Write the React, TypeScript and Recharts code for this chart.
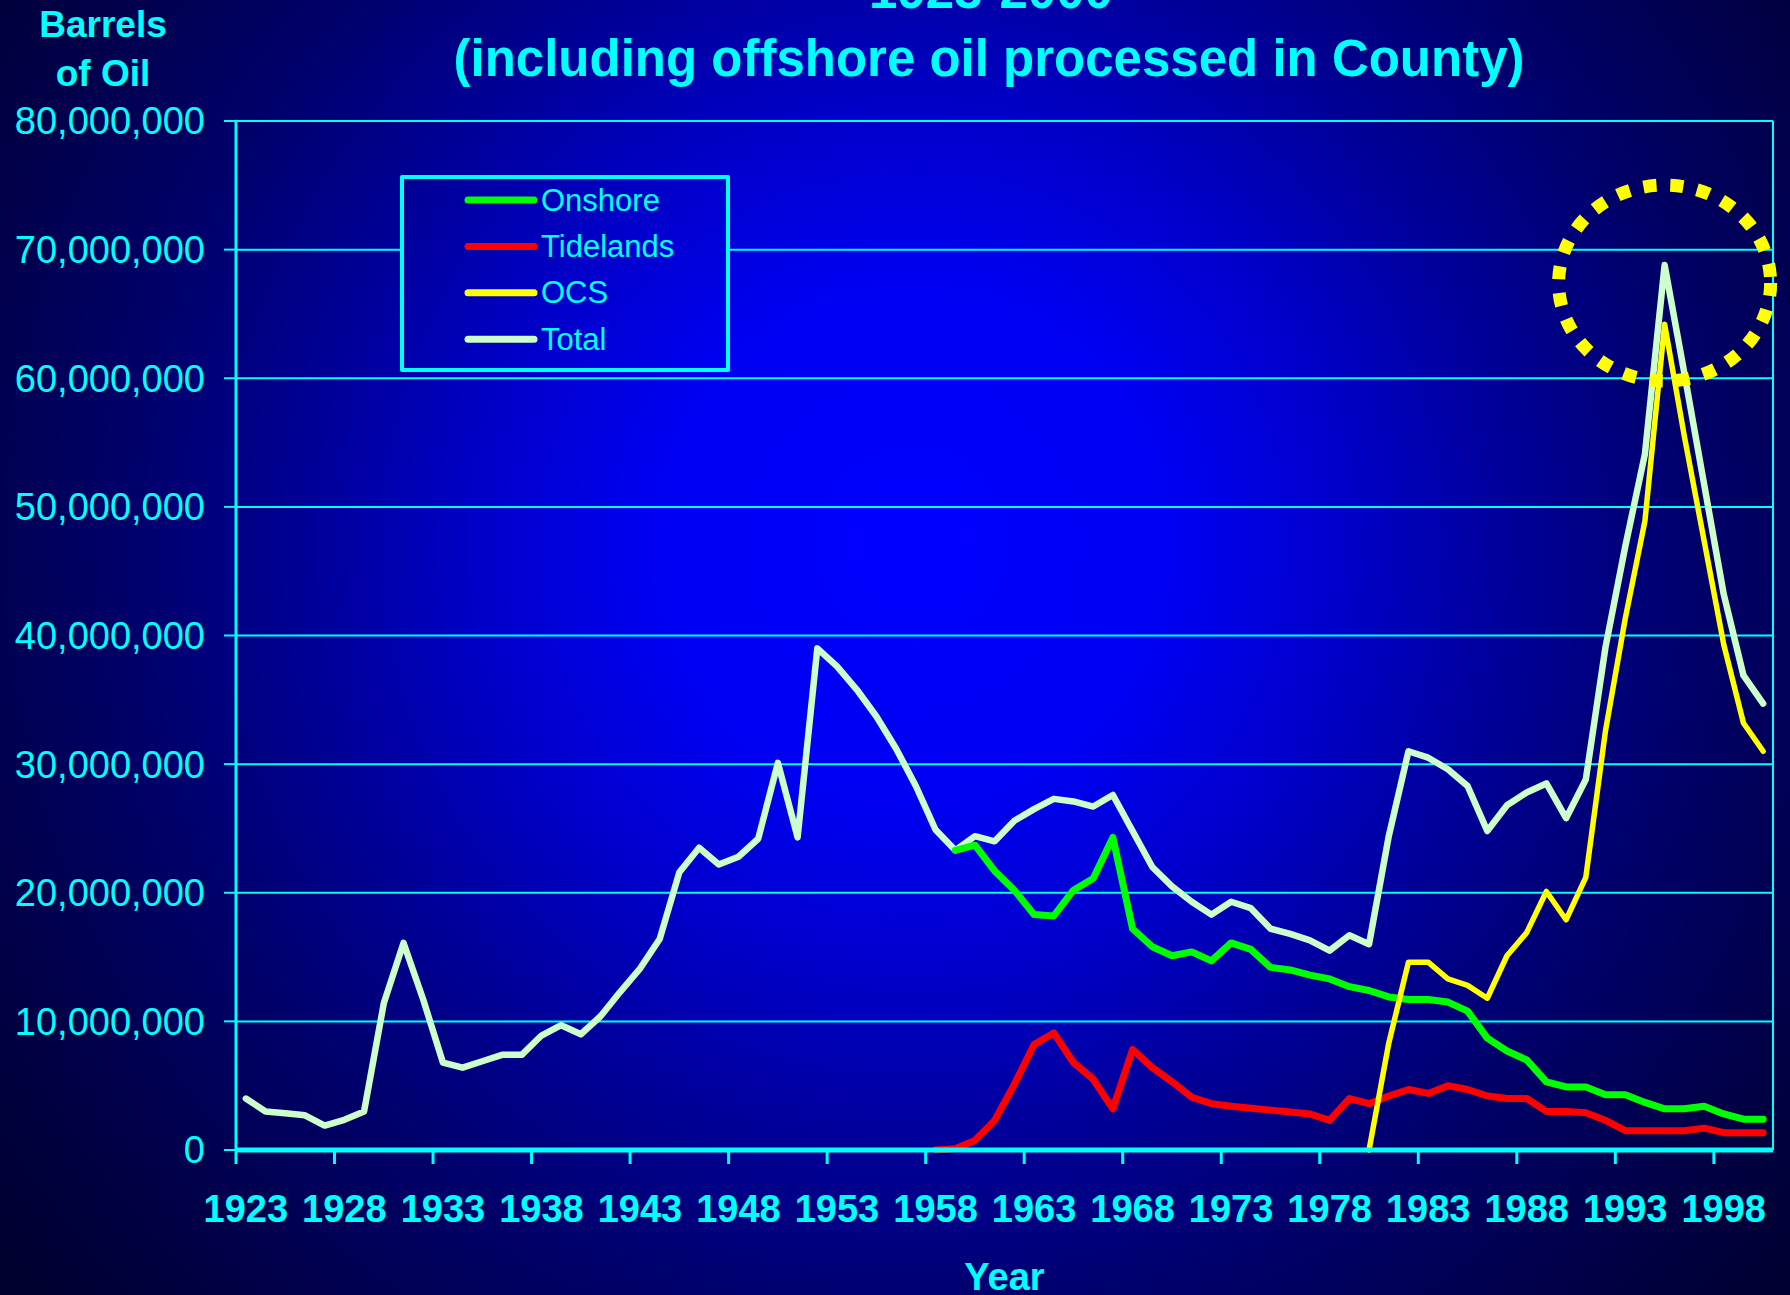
import React from 'react';
import { LineChart, Line, XAxis, YAxis, CartesianGrid, ReferenceLine, ReferenceDot, Legend, Label } from 'recharts';

// ---------- data (millions of barrels) ----------
const firstYear = 1923;
const lastYear = 2000;
const years: number[] = Array.from({ length: lastYear - firstYear + 1 }, (_, i) => firstYear + i);

const totalValues = [
  4.0, 3.0, 2.85, 2.7, 1.9, 2.35, 3.0, 11.4, 16.1, 11.7,
  6.8, 6.4, 6.9, 7.4, 7.4, 8.9, 9.7, 9.0, 10.4, 12.3,
  14.1, 16.4, 21.6, 23.5, 22.2, 22.8, 24.2, 30.1, 24.3, 39.0,
  37.6, 35.8, 33.7, 31.2, 28.3, 24.9, 23.3, 24.4, 24.0, 25.6,
  26.5, 27.3, 27.1, 26.7, 27.6, 24.8, 22.0, 20.5, 19.3, 18.3,
  19.3, 18.8, 17.2, 16.8, 16.3, 15.5, 16.7, 16.0, 24.4, 31.0,
  30.5, 29.6, 28.3, 24.8, 26.8, 27.8, 28.5, 25.8, 28.8, 39.1,
  46.9, 54.1, 68.8, 60.4, 51.8, 43.2, 36.9, 34.7,
];

const onshoreStart = 1959;
const onshoreValues = [
  23.3, 23.7, 21.7, 20.2, 18.3, 18.2, 20.2, 21.1, 24.3, 17.2,
  15.8, 15.1, 15.4, 14.7, 16.1, 15.6, 14.2, 14.0, 13.6, 13.3,
  12.7, 12.4, 11.9, 11.7, 11.7, 11.5, 10.8, 8.7, 7.7, 7.0,
  5.3, 4.9, 4.9, 4.3, 4.3, 3.7, 3.2, 3.2, 3.4, 2.8,
  2.4, 2.4,
];

const tidelandsStart = 1958;
const tidelandsValues = [
  0.0, 0.1, 0.75, 2.3, 5.1, 8.2, 9.1, 6.8, 5.5, 3.2,
  7.8, 6.4, 5.3, 4.1, 3.6, 3.4, 3.25, 3.1, 2.95, 2.8,
  2.3, 4.0, 3.6, 4.2, 4.7, 4.4, 5.0, 4.7, 4.2, 4.0,
  4.0, 3.0, 3.0, 2.9, 2.3, 1.5, 1.5, 1.5, 1.5, 1.7,
  1.35, 1.35, 1.35,
];

const ocsStart = 1980;
const ocsValues = [
  0.0, 8.3, 14.6, 14.6, 13.3, 12.8, 11.8, 15.1, 16.9, 20.1,
  17.9, 21.2, 32.6, 41.3, 48.9, 64.2, 55.5, 47.4, 39.3, 33.2,
  31.0,
];

const yTicks = [0, 10, 20, 30, 40, 50, 60, 70, 80];
const xLabelYears = [1923, 1928, 1933, 1938, 1943, 1948, 1953, 1958, 1963, 1968, 1973, 1978, 1983, 1988, 1993, 1998];

const highlightYear = 1995;
const highlightValue = 67.4;

const seriesDefs = [
  { key: 'onshore', name: 'Onshore', color: '#00ff00' },
  { key: 'tidelands', name: 'Tidelands', color: '#ff0000' },
  { key: 'ocs', name: 'OCS', color: '#ffff00' },
  { key: 'total', name: 'Total', color: '#ccffcc' },
];

const pick = (arr: number[], start: number, year: number) => {
  const i = year - start;
  return i >= 0 && i < arr.length ? arr[i] : null;
};

const data = years.map((year, i) => ({
  year,
  total: totalValues[i],
  onshore: pick(onshoreValues, onshoreStart, year),
  tidelands: pick(tidelandsValues, tidelandsStart, year),
  ocs: pick(ocsValues, ocsStart, year),
}));

// ---------- layout / style ----------
const W = 1790;
const H = 1295;
const MARGIN = { top: 121, right: 17, bottom: 45, left: 6 };
const Y_AXIS_W = 230;
const X_AXIS_H = 100;
const PLOT_W = W - MARGIN.left - Y_AXIS_W - MARGIN.right;
const BAND = PLOT_W / years.length;
const CYAN = '#00ffff';
const FONT = "'Liberation Sans', Arial, Helvetica, sans-serif";
const BG =
  'radial-gradient(circle 1150px at 913px 544px, #0000ff 0%, #0000f4 22%, #0000c8 38%, #000096 53%, #00006a 68%, #00004a 84%, #000030 100%)';

const fmt = (v: number) => Math.round(v * 1e6).toLocaleString('en-US');

const XTick = (props: any) => {
  const { x, y, payload } = props;
  const lx = x - BAND / 2;
  return (
    <g>
      <line x1={lx} y1={y} x2={lx} y2={y + 14} stroke={CYAN} strokeWidth={3} />
      <text x={x} y={y + 72} textAnchor="middle" fill={CYAN} fontSize={38} fontWeight="bold" fontFamily={FONT}>
        {payload.value}
      </text>
    </g>
  );
};

const LegendBox = () => (
  <div
    style={{
      width: 330,
      height: 197,
      boxSizing: 'border-box',
      border: `4px solid ${CYAN}`,
      borderRadius: 2,
      background: BG,
      backgroundAttachment: 'fixed',
      position: 'relative',
    }}
  >
    <svg width={322} height={189} style={{ position: 'absolute', left: 0, top: 0 }}>
      {seriesDefs.map((s, i) => {
        const cy = 21 + i * 46.4;
        return (
          <g key={s.key}>
            <line x1={64} y1={cy} x2={130} y2={cy} stroke={s.color} strokeWidth={7} strokeLinecap="round" />
            <text x={137} y={cy} dy="0.34em" fill={CYAN} fontSize={31} fontFamily={FONT}>
              {s.name}
            </text>
          </g>
        );
      })}
    </svg>
  </div>
);

const Circle = (props: any) => {
  const { cx, cy } = props;
  return (
    <ellipse cx={cx} cy={cy} rx={106} ry={98} fill="none" stroke="#ffff00" strokeWidth={13} strokeDasharray="13 14" />
  );
};

export default function App() {
  return (
    <div
      style={{
        position: 'absolute',
        left: 0,
        top: 0,
        width: W,
        height: H,
        background: BG,
        backgroundAttachment: 'fixed',
        overflow: 'hidden',
        fontFamily: FONT,
      }}
    >
      <LineChart width={W} height={H} data={data} margin={MARGIN}>
        <CartesianGrid horizontal vertical={false} stroke={CYAN} strokeWidth={2} />
        <XAxis
          type="number"
          dataKey="year"
          domain={[firstYear - 0.5, lastYear + 0.5]}
          ticks={xLabelYears}
          interval={0}
          tick={XTick}
          tickLine={false}
          tickSize={0}
          tickMargin={0}
          height={X_AXIS_H}
          axisLine={{ stroke: CYAN, strokeWidth: 5 }}
        >
          <Label
            content={(p: any) => {
              const vb = p.viewBox;
              return (
                <text x={vb.x + vb.width / 2} y={vb.y + 140} textAnchor="middle" fill={CYAN} fontSize={38} fontWeight="bold" fontFamily={FONT}>
                  Year
                </text>
              );
            }}
          />
        </XAxis>
        <YAxis
          type="number"
          domain={[0, 80]}
          ticks={yTicks}
          interval={0}
          width={Y_AXIS_W}
          tickFormatter={fmt}
          tick={{ fill: CYAN, fontSize: 38, fontFamily: FONT }}
          tickLine={{ stroke: CYAN, strokeWidth: 2 }}
          tickSize={12}
          tickMargin={19}
          axisLine={{ stroke: CYAN, strokeWidth: 3 }}
        />
        <ReferenceLine x={lastYear + 0.5} stroke={CYAN} strokeWidth={2} />
        <Line type="linear" dataKey="total" name="Total" stroke="#ccffcc" strokeWidth={6.5} dot={false} activeDot={false} isAnimationActive={false} strokeLinecap="round" strokeLinejoin="round" />
        <Line type="linear" dataKey="onshore" name="Onshore" stroke="#00ff00" strokeWidth={7} dot={false} activeDot={false} isAnimationActive={false} strokeLinecap="round" strokeLinejoin="round" />
        <Line type="linear" dataKey="tidelands" name="Tidelands" stroke="#ff0000" strokeWidth={7} dot={false} activeDot={false} isAnimationActive={false} strokeLinecap="round" strokeLinejoin="round" />
        <Line type="linear" dataKey="ocs" name="OCS" stroke="#ffff00" strokeWidth={5.5} dot={false} activeDot={false} isAnimationActive={false} strokeLinecap="round" strokeLinejoin="round" />
        <ReferenceDot x={highlightYear} y={highlightValue} ifOverflow="visible" shape={Circle} />
        <Legend
          layout="vertical"
          align="center"
          verticalAlign="middle"
          content={() => <LegendBox />}
          wrapperStyle={{ left: 400, top: 175, width: 330, height: 197 }}
        />
      </LineChart>
      <svg width={W} height={H} style={{ position: 'absolute', left: 0, top: 0, pointerEvents: 'none' }}>
        <g fill={CYAN} fontFamily={FONT} fontWeight="bold" textAnchor="middle">
          <text x={991} y={8} fontSize={51}>1923-2000</text>
          <text x={989} y={76} fontSize={51}>(including offshore oil processed in County)</text>
          <text x={103} y={37} fontSize={37}>Barrels</text>
          <text x={103} y={86} fontSize={37}>of Oil</text>
        </g>
      </svg>
    </div>
  );
}
